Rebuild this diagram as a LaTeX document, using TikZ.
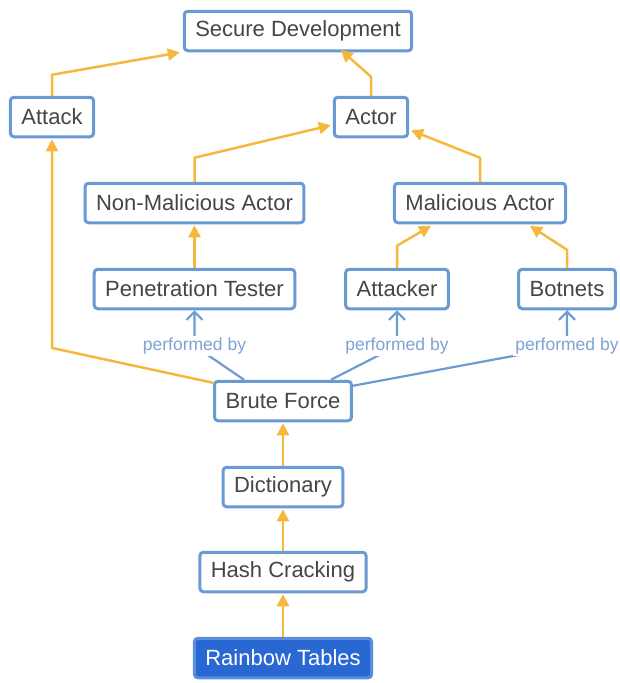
\documentclass[tikz,border=0pt]{standalone}
\usepackage{fontspec}
\setmainfont{Liberation Sans}
\usetikzlibrary{arrows.meta,calc}
\definecolor{boxline}{HTML}{6A9AD3}
\definecolor{boxtext}{HTML}{454545}
\definecolor{flow}{HTML}{F6B83C}
\definecolor{relline}{HTML}{6F9BD3}
\definecolor{reltext}{HTML}{7DA2D6}
\definecolor{focusfill}{HTML}{2968D3}
\definecolor{focusline}{HTML}{5A8EDB}
\tikzset{
  concept/.style={draw=boxline, line width=3pt, rounded corners=3.5pt, fill=white,
    text=boxtext, font=\fontsize{22}{24}\selectfont, minimum height=39.5pt,
    inner xsep=11pt, inner ysep=0pt},
  focus/.style={concept, fill=focusfill, draw=focusline, text=white},
  isa/.style={draw=flow, line width=2.5pt, line join=round,
    -{Triangle[length=12pt,width=12pt]}, shorten >=1pt},
  rel/.style={draw=relline, line width=2.2pt, line join=round,
    -{Straight Barb[length=8pt,width=16pt,line width=2.2pt]}},
  rellabel/.style={fill=white, text=reltext, inner sep=2pt,
    font=\fontsize{17.5}{19}\selectfont},
}
\begin{document}
\begin{tikzpicture}[x=1pt,y=-1pt]
\useasboundingbox (0,0) rectangle (619,683);

% concepts
\node[concept] (sd)  at (298,31)  {Secure Development};
\node[concept] (att) at (52,117)  {Attack};
\node[concept] (act) at (371,117) {Actor};
\node[concept] (nma) at (194.5,203) {Non-Malicious Actor};
\node[concept] (ma)  at (480,203) {Malicious Actor};
\node[concept] (pt)  at (194.5,289) {Penetration Tester};
\node[concept] (atk) at (397,289) {Attacker};
\node[concept] (bot) at (567,289) {Botnets};
\node[concept] (bf)  at (283,401) {Brute Force};
\node[concept] (dic) at (283,487) {Dictionary};
\node[concept] (hc)  at (283,572) {Hash Cracking};
\node[focus]   (rt)  at (283,658) {Rainbow Tables};

% generalisation links
\draw[isa] (att.north) -- ++(0,-21) -- ($(sd.south west)+(-2,0)$);
\draw[isa] (act.north) -- ++(0,-19) -- ($(sd.south)+(42,-3)$);
\draw[isa] (nma.north) -- ++(0,-24) -- ($(act.west)+(-1,8)$);
\draw[isa] (ma.north) -- ++(0,-24) -- ($(act.east)+(1,13)$);
\draw[isa] (pt.north) -- (nma.south);
\draw[isa] (atk.north) -- ++(0,-22) -- ($(ma.south west)+(39,1)$);
\draw[isa] (bot.north) -- ++(0,-18) -- ($(ma.south east)+(-38,1)$);
\draw[isa] ($(bf.north west)+(0,3)$) -- (52,348) -- (att.south);
\draw[isa] (dic.north) -- (bf.south);
\draw[isa] (hc.north) -- (dic.south);
\draw[isa] (rt.north) -- (hc.south);

% relation links
\draw[rel] ($(bf.north west)+(31,0)$) -- (pt.south |- 0,346) node[rellabel] {performed by} -- (pt.south);
\draw[rel] ($(bf.north east)+(-22,0)$) -- (atk.south |- 0,346) node[rellabel] {performed by} -- (atk.south);
\draw[rel] ($(bf.north east)+(0,6)$) -- (bot.south |- 0,346) node[rellabel] {performed by} -- (bot.south);
\end{tikzpicture}
\end{document}
